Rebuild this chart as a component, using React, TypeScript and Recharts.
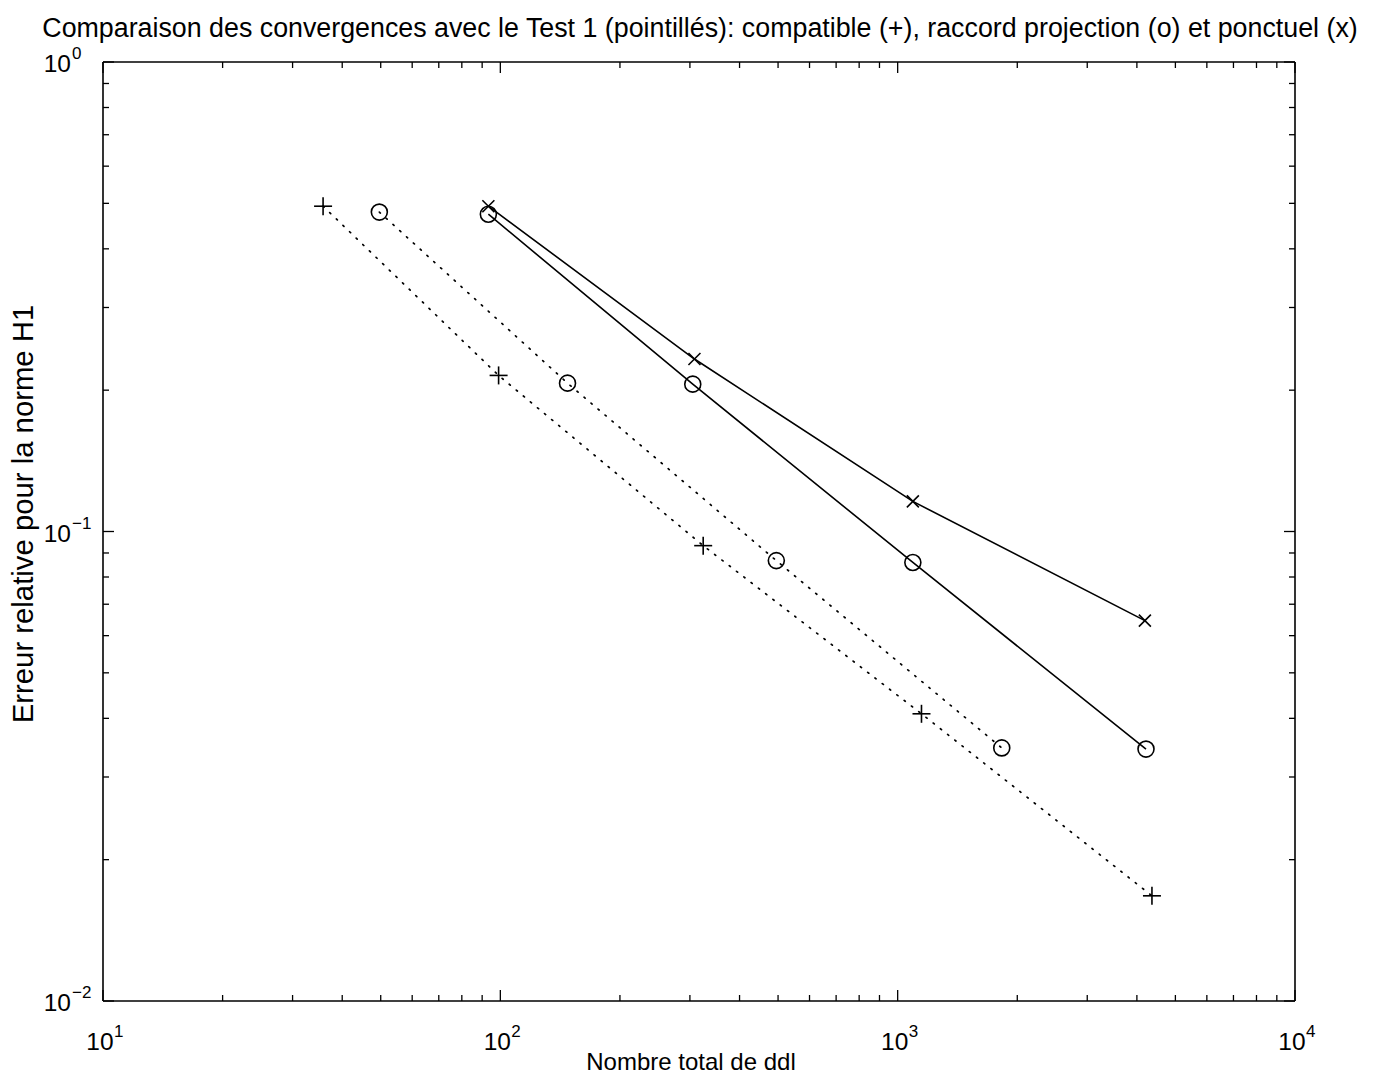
import React from 'react';
import { ComposedChart, Line, XAxis, YAxis } from 'recharts';

const TITLE =
  'Comparaison des convergences avec le Test 1 (pointillés): compatible (+), raccord projection (o) et ponctuel (x)';
const X_LABEL = 'Nombre total de ddl';
const Y_LABEL = 'Erreur relative pour la norme H1';

// Test 1 (dotted) - compatible (+)
const plusX = [35.8, 99, 324, 1148, 4365];
const plusY = [0.493, 0.215, 0.0933, 0.0409, 0.01675];
// Test 1 (dotted) - raccord projection (o)
const circDotX = [49.6, 147.6, 495, 1828];
const circDotY = [0.479, 0.207, 0.0867, 0.0346];
// solid - raccord projection (o)
const circSolidX = [93.3, 305, 1092, 4217];
const circSolidY = [0.474, 0.206, 0.0859, 0.0344];
// solid - ponctuel (x)
const crossX = [93.3, 308, 1092, 4190];
const crossY = [0.493, 0.233, 0.1159, 0.0646];

const xTicks = [
  10, 20, 30, 40, 50, 60, 70, 80, 90,
  100, 200, 300, 400, 500, 600, 700, 800, 900,
  1000, 2000, 3000, 4000, 5000, 6000, 7000, 8000, 9000, 10000,
];
const yTicks = [
  0.01, 0.02, 0.03, 0.04, 0.05, 0.06, 0.07, 0.08, 0.09,
  0.1, 0.2, 0.3, 0.4, 0.5, 0.6, 0.7, 0.8, 0.9, 1,
];

const toData = (xs: number[], ys: number[]) => xs.map((x, i) => ({ x, y: ys[i] }));
const plusData = toData(plusX, plusY);
const circDotData = toData(circDotX, circDotY);
const circSolidData = toData(circSolidX, circSolidY);
const crossData = toData(crossX, crossY);

const FONT = '"Liberation Sans", Arial, Helvetica, sans-serif';
const MAJOR = 11;
const MINOR = 6;

const isMajor = (v: number) => {
  const l = Math.log10(v);
  return Math.abs(l - Math.round(l)) < 1e-9;
};
const expOf = (v: number) => Math.round(Math.log10(v));

const BottomTick = (props: any) => {
  const { x, y, payload } = props;
  const v = payload.value;
  const major = isMajor(v);
  return (
    <g>
      <line x1={x} y1={y} x2={x} y2={y - (major ? MAJOR : MINOR)} stroke="#000" strokeWidth={1.3} />
      {major && (
        <g>
          <text x={x - 3} y={y + 49} textAnchor="middle" fontFamily={FONT} fontSize={24.5} fill="#000">
            10
          </text>
          <text x={x + 11} y={y + 36} textAnchor="start" fontFamily={FONT} fontSize={17} fill="#000">
            {String(expOf(v))}
          </text>
        </g>
      )}
    </g>
  );
};

const TopTick = (props: any) => {
  const { x, y, payload } = props;
  const major = isMajor(payload.value);
  return <line x1={x} y1={y} x2={x} y2={y + (major ? MAJOR : MINOR)} stroke="#000" strokeWidth={1.3} />;
};

const LeftTick = (props: any) => {
  const { x, y, payload } = props;
  const v = payload.value;
  const major = isMajor(v);
  const e = expOf(v);
  return (
    <g>
      <line x1={x} y1={y} x2={x + (major ? MAJOR : MINOR)} y2={y} stroke="#000" strokeWidth={1.3} />
      {major && (
        <g>
          <text x={x - 32} y={y + 10} textAnchor="end" fontFamily={FONT} fontSize={24.5} fill="#000">
            10
          </text>
          <text x={x - 31} y={y - 3} textAnchor="start" fontFamily={FONT} fontSize={17} fill="#000">
            {e === 0 ? '0' : '\u2212' + String(-e)}
          </text>
        </g>
      )}
    </g>
  );
};

const RightTick = (props: any) => {
  const { x, y, payload } = props;
  const major = isMajor(payload.value);
  return <line x1={x} y1={y} x2={x - (major ? MAJOR : MINOR)} y2={y} stroke="#000" strokeWidth={1.3} />;
};

const Plus = (props: any) => {
  const { cx, cy } = props;
  if (cx == null || cy == null) return <g />;
  return (
    <g>
      <line x1={cx - 9} y1={cy} x2={cx + 9} y2={cy} stroke="#000" strokeWidth={1.6} />
      <line x1={cx} y1={cy - 9} x2={cx} y2={cy + 9} stroke="#000" strokeWidth={1.6} />
    </g>
  );
};
const Circ = (props: any) => {
  const { cx, cy } = props;
  if (cx == null || cy == null) return <g />;
  return <circle cx={cx} cy={cy} r={8} fill="none" stroke="#000" strokeWidth={1.6} />;
};
const Cross = (props: any) => {
  const { cx, cy } = props;
  if (cx == null || cy == null) return <g />;
  return (
    <g>
      <line x1={cx - 6} y1={cy - 6} x2={cx + 6} y2={cy + 6} stroke="#000" strokeWidth={1.6} />
      <line x1={cx - 6} y1={cy + 6} x2={cx + 6} y2={cy - 6} stroke="#000" strokeWidth={1.6} />
    </g>
  );
};

const axisLine = { stroke: '#000', strokeWidth: 1.6 };

export default function App() {
  return (
    <div style={{ position: 'absolute', left: 0, top: 0, width: 1380, height: 1081, background: '#fff' }}>
      <div
        style={{
          position: 'absolute',
          left: 0,
          width: 1400,
          top: 13,
          textAlign: 'center',
          fontFamily: FONT,
          fontSize: 26.8,
          lineHeight: '30px',
          color: '#000',
          whiteSpace: 'nowrap',
        }}
      >
        {TITLE}
      </div>
      <div
        style={{
          position: 'absolute',
          left: 0,
          width: 1382,
          top: 1048,
          textAlign: 'center',
          fontFamily: FONT,
          fontSize: 24,
          lineHeight: '28px',
          color: '#000',
          whiteSpace: 'nowrap',
        }}
      >
        {X_LABEL}
      </div>
      <div
        style={{
          position: 'absolute',
          left: 23,
          top: 514,
          transform: 'translate(-50%, -50%) rotate(-90deg)',
          fontFamily: FONT,
          fontSize: 29.3,
          lineHeight: '30px',
          color: '#000',
          whiteSpace: 'nowrap',
        }}
      >
        {Y_LABEL}
      </div>
      <ComposedChart
        width={1380}
        height={1081}
        margin={{ top: 32, right: 55, bottom: 30, left: 43 }}
        style={{ position: 'absolute', left: 0, top: 0 }}
      >
        <XAxis
          xAxisId="b"
          type="number"
          dataKey="x"
          scale="log"
          domain={[10, 10000]}
          allowDataOverflow
          ticks={xTicks}
          interval={0}
          tick={<BottomTick />}
          tickSize={0}
          tickMargin={0}
          tickLine={false}
          axisLine={axisLine}
          height={50}
          orientation="bottom"
        />
        <XAxis
          xAxisId="t"
          type="number"
          dataKey="x"
          scale="log"
          domain={[10, 10000]}
          allowDataOverflow
          ticks={xTicks}
          interval={0}
          tick={<TopTick />}
          tickSize={0}
          tickMargin={0}
          tickLine={false}
          axisLine={axisLine}
          height={30}
          orientation="top"
        />
        <YAxis
          yAxisId="l"
          type="number"
          scale="log"
          domain={[0.01, 1]}
          allowDataOverflow
          ticks={yTicks}
          interval={0}
          tick={<LeftTick />}
          tickSize={0}
          tickMargin={0}
          tickLine={false}
          axisLine={axisLine}
          width={60}
          orientation="left"
        />
        <YAxis
          yAxisId="r"
          type="number"
          scale="log"
          domain={[0.01, 1]}
          allowDataOverflow
          ticks={yTicks}
          interval={0}
          tick={<RightTick />}
          tickSize={0}
          tickMargin={0}
          tickLine={false}
          axisLine={axisLine}
          width={30}
          orientation="right"
        />
        <Line
          xAxisId="b"
          yAxisId="l"
          data={plusData}
          dataKey="y"
          type="linear"
          stroke="#000"
          strokeWidth={1.7}
          strokeDasharray="1.4 7.8"
          strokeLinecap="round"
          dot={(p: any) => <Plus key={'p' + p.index} {...p} />}
          activeDot={false}
          isAnimationActive={false}
        />
        <Line
          xAxisId="b"
          yAxisId="l"
          data={circDotData}
          dataKey="y"
          type="linear"
          stroke="#000"
          strokeWidth={1.7}
          strokeDasharray="1.4 7.8"
          strokeLinecap="round"
          dot={(p: any) => <Circ key={'cd' + p.index} {...p} />}
          activeDot={false}
          isAnimationActive={false}
        />
        <Line
          xAxisId="b"
          yAxisId="l"
          data={circSolidData}
          dataKey="y"
          type="linear"
          stroke="#000"
          strokeWidth={1.6}
          dot={(p: any) => <Circ key={'cs' + p.index} {...p} />}
          activeDot={false}
          isAnimationActive={false}
        />
        <Line
          xAxisId="b"
          yAxisId="l"
          data={crossData}
          dataKey="y"
          type="linear"
          stroke="#000"
          strokeWidth={1.6}
          dot={(p: any) => <Cross key={'x' + p.index} {...p} />}
          activeDot={false}
          isAnimationActive={false}
        />
      </ComposedChart>
    </div>
  );
}
